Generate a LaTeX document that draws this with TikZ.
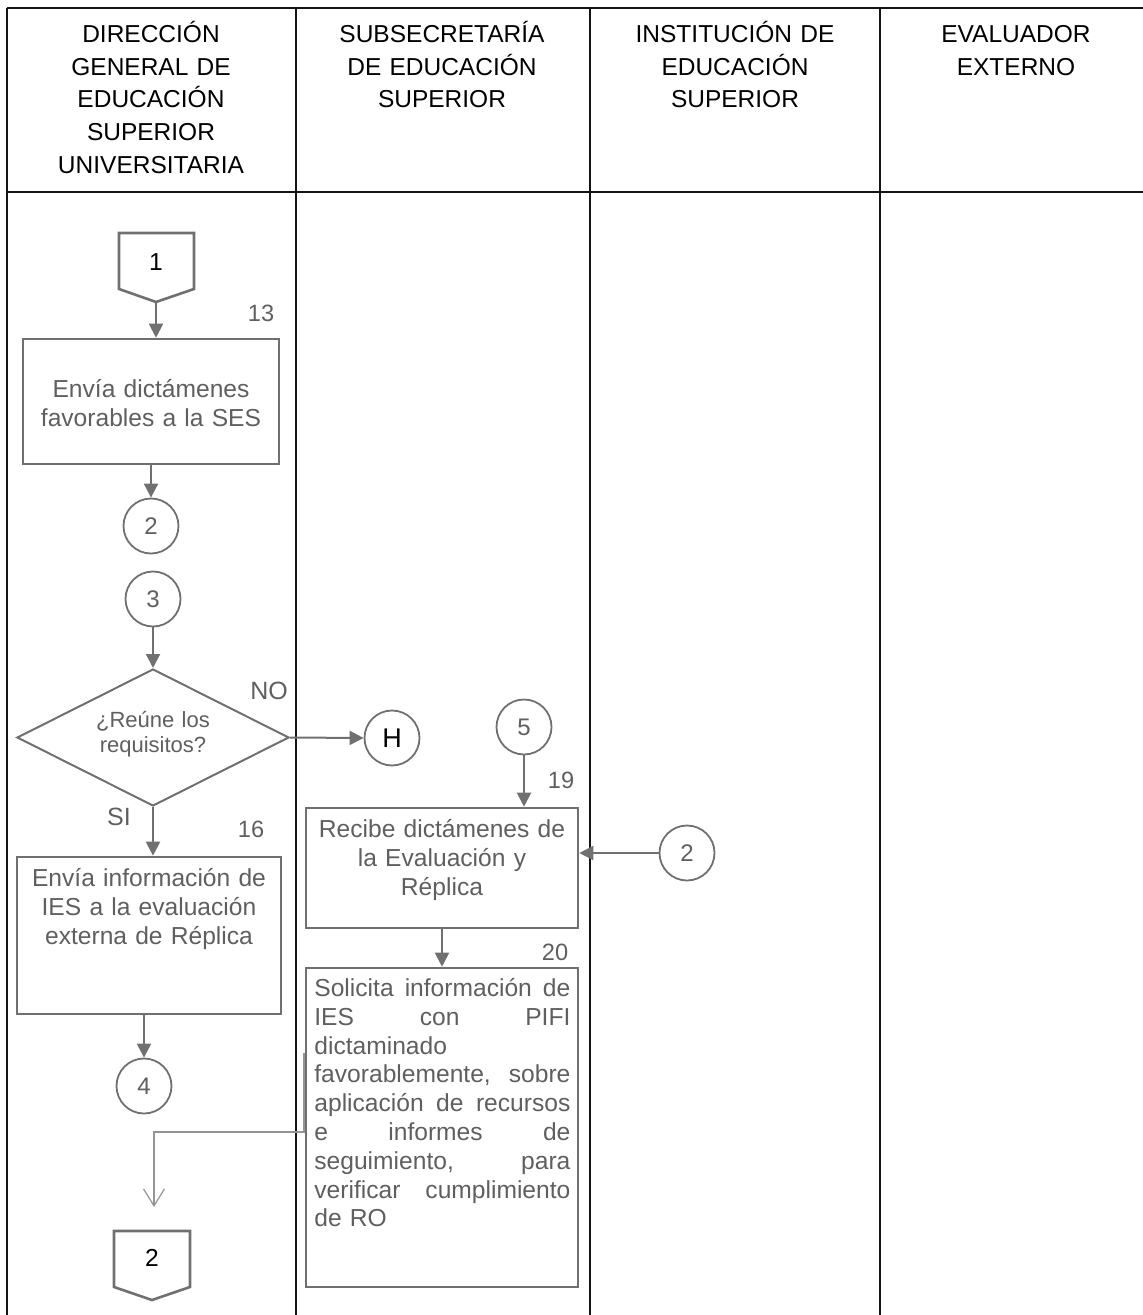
\documentclass[tikz,border=0pt]{standalone}
\usepackage{fontspec}
\setmainfont{Liberation Sans}
\usetikzlibrary{arrows.meta,shapes.geometric}
\definecolor{gline}{RGB}{112,112,112}
\definecolor{gtext}{RGB}{95,95,95}
\definecolor{lane}{RGB}{20,20,20}
\newcommand\fst{\rule{0pt}{12pt}}
\newcommand\jline[1]{\leavevmode\hbox to 128pt{#1}}
\begin{document}
\begin{tikzpicture}[x=0.5pt,y=-0.5pt,
  laneline/.style={draw=lane,line width=1.2pt},
  procbox/.style={draw=gline,line width=1.3pt,inner sep=0,rectangle},
  conn/.style={draw=gline,line width=0.9pt,circle,minimum size=27.5pt,inner sep=0,font=\fontsize{12}{14}\selectfont,text=gtext},
  pent/.style={draw=gline,line width=1.3pt},
  pnum/.style={inner sep=0,font=\fontsize{12.3}{14}\selectfont,text=black},
  dia/.style={draw=gline,line width=1pt,diamond,minimum width=136pt,minimum height=68.5pt,inner sep=0},
  flow/.style={draw=gline,line width=1pt,-{Triangle[length=7pt,width=7pt]}},
  thinflow/.style={draw=gline!75,line width=0.6pt,-{Straight Barb[length=8.5pt,width=10.5pt]}},
  hdr/.style={anchor=north,inner sep=0,text width=140pt,align=center,font=\fontsize{12.25}{16.4}\selectfont,text=black},
  btxt/.style={anchor=north,inner sep=0,align=center,font=\fontsize{12.3}{14.5}\selectfont,text=gtext},
  dtxt/.style={anchor=north,inner sep=0,align=center,text width=70pt,font=\fontsize{11}{12.5}\selectfont,text=gtext},
  num/.style={inner sep=0,font=\fontsize{11.8}{13}\selectfont,text=gtext},
]
\useasboundingbox (0,0) rectangle (1143,1315);
% lanes
\draw[laneline] (7,8) -- (1143,8);
\draw[laneline] (7,192) -- (1143,192);
\foreach \x in {7,296,590,880} \draw[laneline] (\x,8) -- (\x,1315);
% headers
\node[hdr] (h1) at (151,18) {\fst DIRECCIÓN\\GENERAL DE\\EDUCACIÓN\\SUPERIOR\\UNIVERSITARIA};
\node[hdr] (h2) at (442,18) {\fst SUBSECRETARÍA\\DE EDUCACIÓN\\SUPERIOR};
\node[hdr] (h3) at (735,18) {\fst INSTITUCIÓN DE\\EDUCACIÓN\\SUPERIOR};
\node[hdr] (h4) at (1016,18) {\fst EVALUADOR\\EXTERNO};
% pentagon 1
\draw[pent] (119,233) -- (194,233) -- (194,289) -- (156,302) -- (119,289) -- cycle;
\node[pnum] (p1) at (156,262) {1};
\coordinate (p1tip) at (156,302);
% box A
\node[procbox,minimum width=128pt,minimum height=62.5pt] (A) at (151,401.5) {};
\node[btxt,text width=125pt] (Atxt) at (151,373) {\fst Envía dictámenes\\favorables a la SES};
\draw[flow] (p1tip) -- (p1tip |- A.north);
\node[num] (n13) at (261,313) {13};
% connectors 2, 3
\node[conn] (c2) at (151,526) {2};
\draw[flow] (A.south) -- (c2.north);
\node[conn] (c3) at (153,599) {3};
% decision
\node[dia] (Q) at (153,737.5) {};
\draw[flow] (c3.south) -- (Q.north);
\node[dtxt] (Qtxt) at (153,703) {\fst ¿Reúne los\\requisitos?};
\node[num,font=\fontsize{12.5}{14}\selectfont] (nNO) at (269,691) {NO};
\node[conn,text=black,font=\fontsize{13.5}{15}\selectfont] (cH) at (392,738) {H};
\draw[flow] (Q.east) -- (cH.west);
\node[num,font=\fontsize{12.5}{14}\selectfont] (nSI) at (119,817) {SI};
% box B
\node[procbox,minimum width=132pt,minimum height=78.5pt] (B) at (149,935.5) {};
\draw[flow] (Q.south) -- (Q.south |- B.north);
\node[num] (n16) at (251,829) {16};
\node[btxt,text width=130pt] (Btxt) at (149,862) {\fst Envía información de\\IES a la evaluación\\externa de Réplica};
\node[conn] (c4) at (144,1086) {4};
\draw[flow] (c4 |- B.south) -- (c4.north);
% lane 2
\node[conn] (c5) at (524,727) {5};
\node[procbox,minimum width=136pt,minimum height=60pt] (C) at (442,868) {};
\draw[flow] (c5.south) -- (c5.south |- C.north);
\node[num] (n19) at (561,780) {19};
\node[btxt,text width=134pt] (Ctxt) at (442,813) {\fst Recibe dictámenes de\\la Evaluación y\\Réplica};
\node[conn] (c2r) at (687,853) {2};
\draw[flow] (c2r.west) -- (c2r.west -| C.east);
\node[procbox,minimum width=136pt,minimum height=159.5pt] (D) at (442,1127.5) {};
\draw[flow] (C.south) -- (D.north);
\node[num] (n20) at (555,952) {20};
\node[anchor=north west,inner sep=0,text width=128pt,align=left,font=\fontsize{12.3}{14.4}\selectfont,text=gtext] (Dtxt) at (314,972) {\fst\jline{Solicita\hfill información\hfill de}\\
\jline{IES\hfill con\hfill PIFI}\\
dictaminado\\
\jline{favorablemente,\hfill sobre}\\
\jline{aplicación\hfill de\hfill recursos}\\
\jline{e\hfill informes\hfill de}\\
\jline{seguimiento,\hfill para}\\
\jline{verificar\hfill cumplimiento}\\
de RO};
% thin connector
\coordinate (t1) at (304,1053);
\coordinate (t2) at (154,1207);
\draw[thinflow] (t1) -- ++(0,79) -| (t2);
% pentagon 2
\draw[pent] (114,1231) -- (190,1231) -- (190,1287) -- (152,1300) -- (114,1287) -- cycle;
\node[pnum] (p2) at (152,1258) {2};
\end{tikzpicture}
\end{document}
